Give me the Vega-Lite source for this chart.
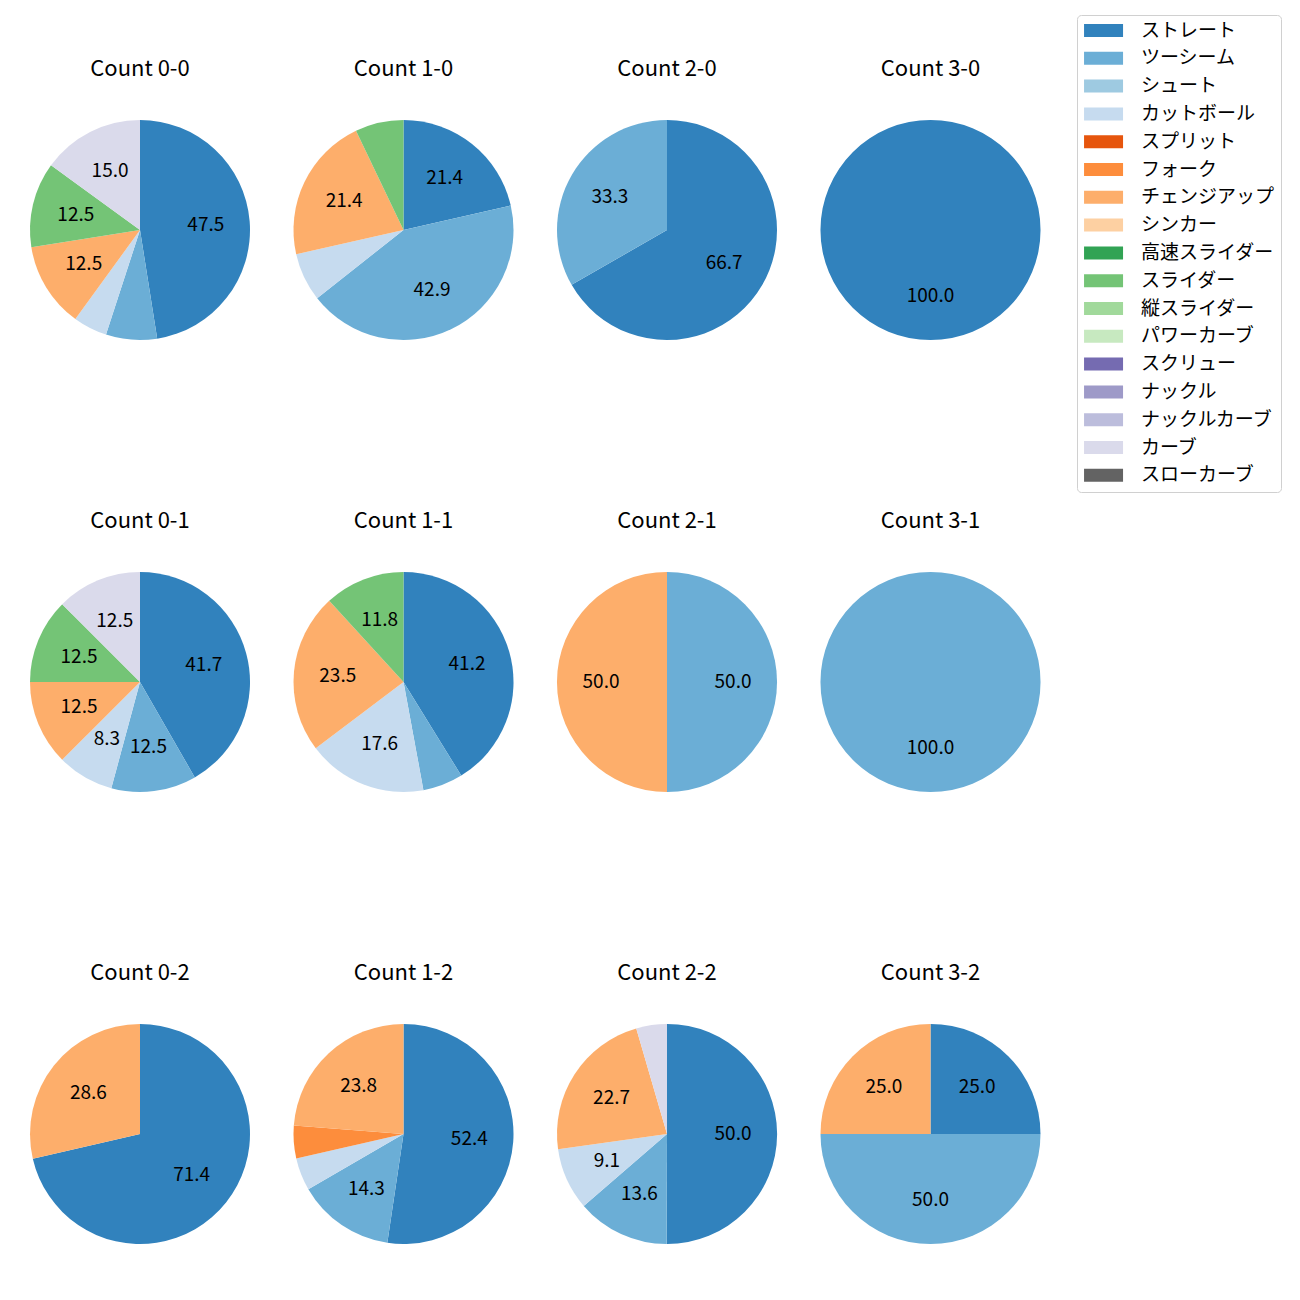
{
  "$schema": "https://vega.github.io/schema/vega-lite/v6.json",
  "padding": {"left": 30, "top": 14, "right": 5, "bottom": 5},
  "background": "white",
  "data": {"values": [
    {"count": "Count 0-0", "pi": 0, "pitch": "ストレート", "pct": 47.5},
    {"count": "Count 0-0", "pi": 1, "pitch": "ツーシーム", "pct": 7.5},
    {"count": "Count 0-0", "pi": 3, "pitch": "カットボール", "pct": 5.0},
    {"count": "Count 0-0", "pi": 6, "pitch": "チェンジアップ", "pct": 12.5},
    {"count": "Count 0-0", "pi": 9, "pitch": "スライダー", "pct": 12.5},
    {"count": "Count 0-0", "pi": 15, "pitch": "カーブ", "pct": 15.0},
    {"count": "Count 1-0", "pi": 0, "pitch": "ストレート", "pct": 21.4},
    {"count": "Count 1-0", "pi": 1, "pitch": "ツーシーム", "pct": 42.9},
    {"count": "Count 1-0", "pi": 3, "pitch": "カットボール", "pct": 7.1},
    {"count": "Count 1-0", "pi": 6, "pitch": "チェンジアップ", "pct": 21.4},
    {"count": "Count 1-0", "pi": 9, "pitch": "スライダー", "pct": 7.1},
    {"count": "Count 2-0", "pi": 0, "pitch": "ストレート", "pct": 66.7},
    {"count": "Count 2-0", "pi": 1, "pitch": "ツーシーム", "pct": 33.3},
    {"count": "Count 3-0", "pi": 0, "pitch": "ストレート", "pct": 100.0},
    {"count": "Count 0-1", "pi": 0, "pitch": "ストレート", "pct": 41.7},
    {"count": "Count 0-1", "pi": 1, "pitch": "ツーシーム", "pct": 12.5},
    {"count": "Count 0-1", "pi": 3, "pitch": "カットボール", "pct": 8.3},
    {"count": "Count 0-1", "pi": 6, "pitch": "チェンジアップ", "pct": 12.5},
    {"count": "Count 0-1", "pi": 9, "pitch": "スライダー", "pct": 12.5},
    {"count": "Count 0-1", "pi": 15, "pitch": "カーブ", "pct": 12.5},
    {"count": "Count 1-1", "pi": 0, "pitch": "ストレート", "pct": 41.2},
    {"count": "Count 1-1", "pi": 1, "pitch": "ツーシーム", "pct": 5.9},
    {"count": "Count 1-1", "pi": 3, "pitch": "カットボール", "pct": 17.6},
    {"count": "Count 1-1", "pi": 6, "pitch": "チェンジアップ", "pct": 23.5},
    {"count": "Count 1-1", "pi": 9, "pitch": "スライダー", "pct": 11.8},
    {"count": "Count 2-1", "pi": 1, "pitch": "ツーシーム", "pct": 50.0},
    {"count": "Count 2-1", "pi": 6, "pitch": "チェンジアップ", "pct": 50.0},
    {"count": "Count 3-1", "pi": 1, "pitch": "ツーシーム", "pct": 100.0},
    {"count": "Count 0-2", "pi": 0, "pitch": "ストレート", "pct": 71.4},
    {"count": "Count 0-2", "pi": 6, "pitch": "チェンジアップ", "pct": 28.6},
    {"count": "Count 1-2", "pi": 0, "pitch": "ストレート", "pct": 52.4},
    {"count": "Count 1-2", "pi": 1, "pitch": "ツーシーム", "pct": 14.3},
    {"count": "Count 1-2", "pi": 3, "pitch": "カットボール", "pct": 4.8},
    {"count": "Count 1-2", "pi": 5, "pitch": "フォーク", "pct": 4.8},
    {"count": "Count 1-2", "pi": 6, "pitch": "チェンジアップ", "pct": 23.8},
    {"count": "Count 2-2", "pi": 0, "pitch": "ストレート", "pct": 50.0},
    {"count": "Count 2-2", "pi": 1, "pitch": "ツーシーム", "pct": 13.6},
    {"count": "Count 2-2", "pi": 3, "pitch": "カットボール", "pct": 9.1},
    {"count": "Count 2-2", "pi": 6, "pitch": "チェンジアップ", "pct": 22.7},
    {"count": "Count 2-2", "pi": 15, "pitch": "カーブ", "pct": 4.5},
    {"count": "Count 3-2", "pi": 0, "pitch": "ストレート", "pct": 25.0},
    {"count": "Count 3-2", "pi": 1, "pitch": "ツーシーム", "pct": 50.0},
    {"count": "Count 3-2", "pi": 6, "pitch": "チェンジアップ", "pct": 25.0}
  ]},
  "facet": {
    "field": "count",
    "type": "nominal",
    "sort": ["Count 0-0", "Count 1-0", "Count 2-0", "Count 3-0", "Count 0-1", "Count 1-1", "Count 2-1", "Count 3-1", "Count 0-2", "Count 1-2", "Count 2-2", "Count 3-2"],
    "header": {"title": null, "labelFontSize": 22, "labelPadding": 39, "labelColor": "black", "labelFont": "Noto Sans CJK JP"}
  },
  "columns": 4,
  "spacing": {"row": 170, "column": 43.5},
  "spec": {
    "width": 220,
    "height": 220,
    "layer": [
      {
        "mark": {"type": "arc"},
        "encoding": {
          "theta": {"field": "pct", "type": "quantitative", "stack": true},
          "order": {"field": "pi", "type": "quantitative"},
          "color": {
            "field": "pitch",
            "type": "nominal",
            "scale": {
              "domain": ["ストレート", "ツーシーム", "シュート", "カットボール", "スプリット", "フォーク", "チェンジアップ", "シンカー", "高速スライダー", "スライダー", "縦スライダー", "パワーカーブ", "スクリュー", "ナックル", "ナックルカーブ", "カーブ", "スローカーブ"],
              "range": ["#3182bd", "#6baed6", "#9ecae1", "#c6dbef", "#e6550d", "#fd8d3c", "#fdae6b", "#fdd0a2", "#31a354", "#74c476", "#a1d99b", "#c7e9c0", "#756bb1", "#9e9ac8", "#bcbddc", "#dadaeb", "#636363"]
            },
            "legend": {
              "title": null,
              "orient": "none",
              "legendX": 1047,
              "legendY": -105,
              "symbolType": "M-1.3,-1h6v2h-6z",
              "symbolSize": 169,
              "symbolStrokeWidth": 0,
              "labelOffset": 39,
              "labelFontSize": 19,
              "labelFont": "Noto Sans CJK JP",
              "labelColor": "black",
              "rowPadding": 7.8,
              "padding": 6,
              "strokeColor": "#d0d0d0",
              "fillColor": "white",
              "cornerRadius": 4
            }
          }
        }
      },
      {
        "mark": {"type": "text", "radius": 66, "fontSize": 19, "font": "Noto Sans CJK JP", "color": "black"},
        "encoding": {
          "theta": {"field": "pct", "type": "quantitative", "stack": true},
          "order": {"field": "pi", "type": "quantitative"},
          "text": {
            "condition": {"test": "datum.pct >= 8", "field": "pct", "type": "quantitative", "format": ".1f"},
            "value": ""
          }
        }
      }
    ]
  },
  "config": {"view": {"stroke": null}, "font": "Noto Sans CJK JP"}
}
